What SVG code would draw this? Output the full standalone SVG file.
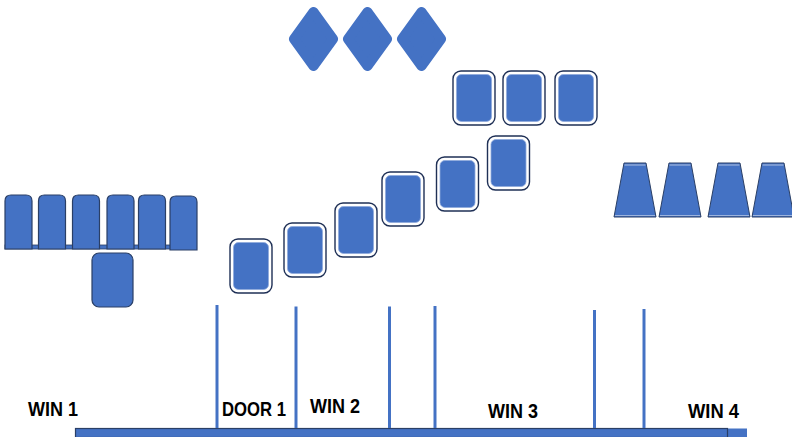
<svg xmlns="http://www.w3.org/2000/svg" width="792" height="437" viewBox="0 0 792 437">
  <defs>
    <style>
      .seat-out { fill: #ffffff; stroke: #1f3056; stroke-width: 1.4; }
      .seat-in { fill: #4472c4; stroke: #8faadc; stroke-width: 0.8; }
      .chair { fill: #4472c4; stroke: #2a3f66; stroke-width: 1.2; }
      .diamond { fill: #4472c4; stroke: #4472c4; stroke-width: 10; stroke-linejoin: round; }
      .trap { fill: #4472c4; stroke: #2a3f66; stroke-width: 1; }
      .trap-edge { stroke: #9db4de; stroke-width: 1.2; }
      .post { stroke: #4472c4; stroke-width: 3; }
      .label { font-family: "Liberation Sans", Arial, sans-serif; font-weight: bold; font-size: 21px; fill: #000000; }
    </style>
    <!-- one framed seat: dark outline, white gap, blue body -->
    <g id="seat">
      <rect class="seat-out" x="0" y="0" width="42" height="54" rx="8"/>
      <rect class="seat-in" x="3.5" y="3.5" width="35" height="47" rx="5"/>
    </g>
    <!-- chair with rounded top corners only -->
    <path id="chair" class="chair" d="M0,54 V6 Q0,0 6,0 H21 Q27,0 27,6 V54 Z"/>
    <!-- tapered stool -->
    <g id="stool">
      <polygon class="trap" points="10,0 32,0 42,54 0,54"/>
      <line class="trap-edge" x1="10.5" y1="2" x2="31.5" y2="2"/>
      <line class="trap-edge" x1="1" y1="52.5" x2="41" y2="52.5"/>
    </g>
  </defs>

  <!-- left bench row -->
  <g id="bench-left">
    <rect x="5" y="245" width="166" height="4" fill="#4472c4" stroke="#2a3f66" stroke-width="0.8"/>
    <use href="#chair" x="5" y="195"/>
    <use href="#chair" x="38.5" y="195"/>
    <use href="#chair" x="72.5" y="195"/>
    <use href="#chair" x="107" y="195"/>
    <use href="#chair" x="138.5" y="195"/>
    <use href="#chair" x="170" y="196"/>
  </g>
  <g id="seat-below">
    <rect class="chair" x="92" y="253" width="41" height="54" rx="7"/>
  </g>

  <!-- diagonal row of seats -->
  <g id="seat-d1"><use href="#seat" x="230" y="239"/></g>
  <g id="seat-d2"><use href="#seat" x="284" y="223"/></g>
  <g id="seat-d3"><use href="#seat" x="335" y="203"/></g>
  <g id="seat-d4"><use href="#seat" x="382" y="172"/></g>
  <g id="seat-d5"><use href="#seat" x="436.5" y="157"/></g>
  <g id="seat-d6"><use href="#seat" x="487.5" y="136"/></g>

  <!-- upper row of seats -->
  <g id="seat-t1"><use href="#seat" x="453" y="71"/></g>
  <g id="seat-t2"><use href="#seat" x="503" y="71"/></g>
  <g id="seat-t3"><use href="#seat" x="555" y="71"/></g>

  <!-- diamonds -->
  <g id="diamond-1"><polygon class="diamond" points="313.5,12 333,39 313.5,66 294,39"/></g>
  <g id="diamond-2"><polygon class="diamond" points="367.5,12 387,39 367.5,66 348,39"/></g>
  <g id="diamond-3"><polygon class="diamond" points="421.5,12 441,39 421.5,66 402,39"/></g>

  <!-- stools on the right -->
  <g id="stool-1"><use href="#stool" x="614" y="163"/></g>
  <g id="stool-2"><use href="#stool" x="659" y="163"/></g>
  <g id="stool-3"><use href="#stool" x="708" y="163"/></g>
  <g id="stool-4"><use href="#stool" x="752" y="163"/></g>

  <!-- wall base and dividers -->
  <g id="connectors">
    <rect x="727" y="428.5" width="20" height="9" fill="#4472c4"/>
    <rect x="75.5" y="428.5" width="652" height="9" fill="#4472c4" stroke="#2a3f66" stroke-width="1.2"/>
    <line class="post" x1="217" y1="305" x2="217" y2="428"/>
    <line class="post" x1="296" y1="306.5" x2="296" y2="428"/>
    <line class="post" x1="389.5" y1="306.5" x2="389.5" y2="428"/>
    <line class="post" x1="435" y1="306" x2="435" y2="428"/>
    <line class="post" x1="594.5" y1="310" x2="594.5" y2="428"/>
    <line class="post" x1="644" y1="309" x2="644" y2="428"/>
  </g>

  <!-- labels -->
  <g id="labels">
    <text class="label" x="28" y="416" textLength="50" lengthAdjust="spacingAndGlyphs">WIN 1</text>
    <text class="label" x="222" y="416" textLength="64" lengthAdjust="spacingAndGlyphs">DOOR 1</text>
    <text class="label" x="310" y="413" textLength="50" lengthAdjust="spacingAndGlyphs">WIN 2</text>
    <text class="label" x="488" y="418" textLength="50" lengthAdjust="spacingAndGlyphs">WIN 3</text>
    <text class="label" x="688" y="418" textLength="51" lengthAdjust="spacingAndGlyphs">WIN 4</text>
  </g>
</svg>
